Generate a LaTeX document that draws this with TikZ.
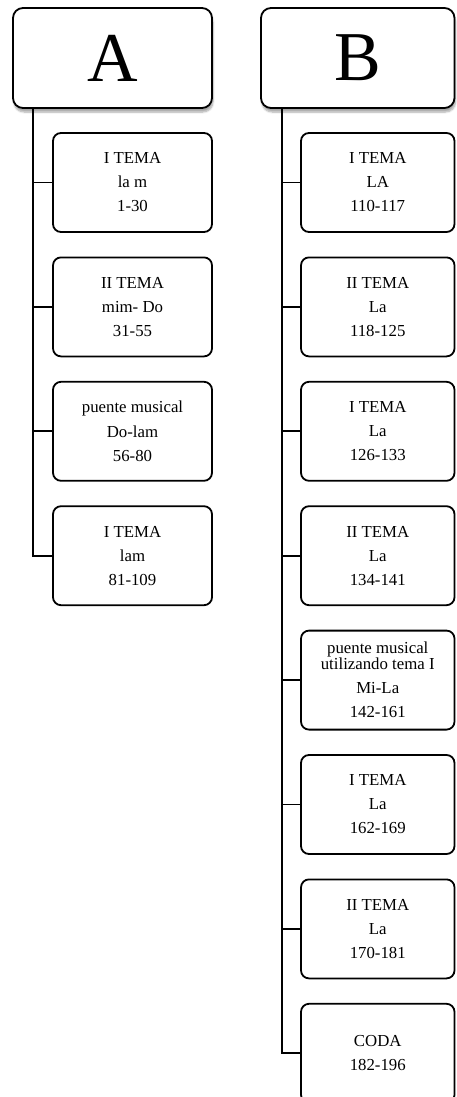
\documentclass[tikz,border=0pt]{standalone}
\usepackage{fontspec}
\setmainfont{Liberation Serif}
\usetikzlibrary{positioning,calc,shadows.blur}

\begin{document}
\begin{tikzpicture}[x=1pt,y=-1pt,
  head/.style={draw,line width=1.8pt,rounded corners=10pt,fill=white,outer sep=0pt,
    minimum height=100pt,font=\fontsize{70}{70}\selectfont,
    blur shadow={shadow xshift=1pt,shadow yshift=-4pt,shadow blur steps=6,shadow opacity=35}},
  part/.style={draw,line width=1.8pt,rounded corners=8pt,outer sep=0pt,minimum height=99pt,
    align=center,font=\fontsize{16.8}{15}\selectfont},
  parta/.style={part,minimum width=159pt},
  partb/.style={part,minimum width=153.5pt},
  link/.style={line width=1.8pt}]
\useasboundingbox (0,0) rectangle (456,1097);
% headers
\node[head,minimum width=199pt] (hdA) at (112.5,58) {A};
\node[head,minimum width=193.5pt] (hdB) at (357.75,58) {B};
% section A
\node[parta] (a1) at (132.5,182.5) {I TEMA\\[9pt]la m\\[9pt]1-30};
\node[parta,below=25.4pt of a1] (a2) {II TEMA\\[9pt]mim- Do\\[9pt]31-55};
\node[parta,below=25.4pt of a2] (a3) {puente musical\\[9pt]Do-lam\\[9pt]56-80};
\node[parta,below=25.4pt of a3] (a4) {I TEMA\\[9pt]lam\\[9pt]81-109};
% section B
\node[partb] (b1) at (377.75,182.5) {I TEMA\\[9pt]LA\\[9pt]110-117};
\node[partb,below=25.4pt of b1] (b2) {II TEMA\\[9pt]La\\[9pt]118-125};
\node[partb,below=25.4pt of b2] (b3) {I TEMA\\[9pt]La\\[9pt]126-133};
\node[partb,below=25.4pt of b3] (b4) {II TEMA\\[9pt]La\\[9pt]134-141};
\node[partb,below=25.4pt of b4] (b5) {puente musical\\utilizando tema I\\[9pt]Mi-La\\[9pt]142-161};
\node[partb,below=25.4pt of b5] (b6) {I TEMA\\[9pt]La\\[9pt]162-169};
\node[partb,below=25.4pt of b6] (b7) {II TEMA\\[9pt]La\\[9pt]170-181};
\node[partb,below=25.4pt of b7] (b8) {CODA\\[9pt]182-196};
% trunks and branches
\coordinate (trunkA) at ($(hdA.south west)+(20,0)$);
\coordinate (trunkB) at ($(hdB.south west)+(21,0)$);
\draw[link] (trunkA) |- (a4.west);
\foreach \n in {a1,a2,a3}
  \draw[link] (trunkA |- \n.west) -- (\n.west);
\draw[link] (trunkB) |- (b8.west);
\foreach \n in {b1,b2,b3,b4,b5,b6,b7}
  \draw[link] (trunkB |- \n.west) -- (\n.west);
\end{tikzpicture}
\end{document}
